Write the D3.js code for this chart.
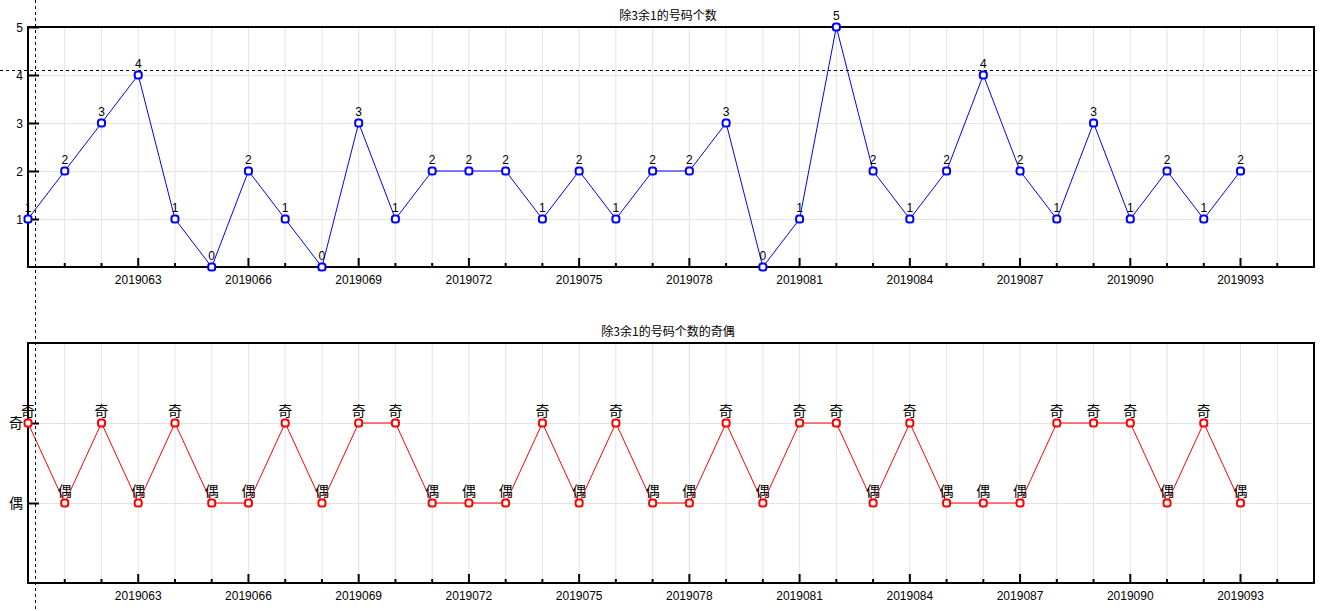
<!DOCTYPE html>
<html>
  <head>
    <meta charset="utf-8">
    <title>除3余1的号码个数</title>
    <script src="https://cdn.jsdelivr.net/npm/d3@7/dist/d3.min.js"></script>
    <style>
      body { margin: 0; background: #fff; }
      text { font-family: "Liberation Sans", "Noto Sans CJK SC", sans-serif; font-size: 12px; fill: #000; }
    </style>
  </head>
  <body>
    <div id="main"></div>
    <script>
      var WIDTH = 1323, HEIGHT = 611;

      // periods 2019060 .. 2019093
      var periods = [];
      for (var p = 2019060; p <= 2019093; p++) periods.push(p);
      var counts = [1,2,3,4,1,0,2,1,0,3,1,2,2,2,1,2,1,2,2,3,0,1,5,2,1,2,4,2,1,3,1,2,1,2];
      var parity = counts.map(function(c) { return c % 2 === 1 ? '奇' : '偶'; });
      var topTicks = [1, 2, 3, 4, 5];
      var parityTicks = ['偶', '奇'];
      var labelPeriods = [2019063, 2019066, 2019069, 2019072, 2019075, 2019078, 2019081, 2019084, 2019087, 2019090, 2019093];

      var svg = d3.select('#main').append('svg')
                  .attr('width', WIDTH).attr('height', HEIGHT);

      var x = d3.scaleLinear().domain([0, 35]).range([28, 1314]);
      var idx = d3.range(0, 36);

      function panel(opts) {
        var g = svg.append('g');
        var y = opts.y;
        var y0 = opts.top, y1 = opts.bottom;

        // grid
        g.selectAll('.vg').data(idx.slice(1, 35)).enter().append('line')
          .attr('x1', function(i) { return x(i); }).attr('x2', function(i) { return x(i); })
          .attr('y1', y0).attr('y2', y1)
          .attr('stroke', '#e3e3e3').attr('stroke-width', 1);
        g.selectAll('.hg').data(opts.gridVals).enter().append('line')
          .attr('x1', 28).attr('x2', 1314)
          .attr('y1', function(v) { return y(v) + 0.5; }).attr('y2', function(v) { return y(v) + 0.5; })
          .attr('stroke', '#e3e3e3').attr('stroke-width', 1);

        // frame
        g.append('rect').attr('x', 28).attr('y', y0).attr('width', 1314 - 28).attr('height', y1 - y0)
          .attr('fill', 'none').attr('stroke', '#000').attr('stroke-width', 2);

        // x ticks
        g.selectAll('.xt').data(idx.slice(1, 35)).enter().append('line')
          .attr('x1', function(i) { return x(i); }).attr('x2', function(i) { return x(i); })
          .attr('y1', y1).attr('y2', function(i) { return y1 - (i % 3 === 0 ? 9 : 4); })
          .attr('stroke', '#000').attr('stroke-width', 2);
        g.selectAll('.xl').data(labelPeriods).enter().append('text')
          .attr('x', function(p) { return x(periods.indexOf(p)); })
          .attr('y', y1 + 17)
          .attr('text-anchor', 'middle')
          .text(function(p) { return p; });

        // y ticks
        g.selectAll('.yt').data(opts.tickVals).enter().append('line')
          .attr('x1', 28).attr('x2', 39)
          .attr('y1', function(v) { return y(v) + 0.5; }).attr('y2', function(v) { return y(v) + 0.5; })
          .attr('stroke', '#000').attr('stroke-width', 2);
        g.selectAll('.yl').data(opts.tickVals).enter().append('text')
          .attr('x', 23).attr('y', function(v) { return y(v) + opts.tickDy; })
          .attr('text-anchor', 'end')
          .style('font-size', opts.tickSize)
          .text(function(v, i) { return opts.tickText[i]; });

        // title
        g.append('text').attr('x', 668).attr('y', y0 - 7).attr('text-anchor', 'middle')
          .style('font-family', '"Noto Sans CJK SC", sans-serif')
          .text(opts.title);

        // line
        var line = d3.line()
          .x(function(d, i) { return x(i); })
          .y(function(d) { return y(opts.val(d)); });
        g.append('path').datum(opts.data)
          .attr('d', line).attr('fill', 'none')
          .attr('stroke', opts.color).attr('stroke-width', 1);

        g.selectAll('.pt').data(opts.data).enter().append('rect')
          .attr('x', function(d, i) { return x(i) - 3.5; })
          .attr('y', function(d) { return y(opts.val(d)) - 3.5; })
          .attr('width', 7).attr('height', 7).attr('rx', 2.5)
          .attr('fill', '#fff').attr('stroke', opts.color).attr('stroke-width', 2);

        g.selectAll('.pl').data(opts.data).enter().append('text')
          .attr('x', function(d, i) { return x(i); })
          .attr('y', function(d) { return y(opts.val(d)) - 7; })
          .attr('text-anchor', 'middle')
          .style('font-family', opts.labelFont)
          .style('font-size', opts.labelSize)
          .text(function(d) { return d; });
      }

      var yTop = d3.scaleLinear().domain([0, 5]).range([267, 27]);
      panel({
        top: 27, bottom: 267, y: yTop,
        gridVals: topTicks.slice(0, 4), tickVals: topTicks, tickText: topTicks,
        tickDy: 5, tickSize: '12px',
        title: '除3余1的号码个数',
        data: counts, val: function(d) { return d; },
        color: '#0000ff', labelSize: '12px', labelFont: '"Liberation Sans", sans-serif'
      });

      var yBot = d3.scaleLinear().domain([0, 3]).range([583, 343]);
      var parVal = function(d) { return d === '奇' ? 2 : 1; };
      panel({
        top: 343, bottom: 583, y: yBot,
        gridVals: [1, 2], tickVals: [1, 2], tickText: parityTicks,
        tickDy: 5, tickSize: '14px',
        title: '除3余1的号码个数的奇偶',
        data: parity, val: parVal,
        color: '#ff0000', labelSize: '14px', labelFont: '"Noto Sans CJK SC", sans-serif'
      });

      // crosshair
      svg.append('line').attr('x1', 35.5).attr('x2', 35.5).attr('y1', 0).attr('y2', HEIGHT)
        .attr('stroke', '#000').attr('stroke-dasharray', '3,3');
      svg.append('line').attr('x1', 0).attr('x2', 1320).attr('y1', 70.5).attr('y2', 70.5)
        .attr('stroke', '#000').attr('stroke-dasharray', '3,3');
    </script>
  </body>
</html>
